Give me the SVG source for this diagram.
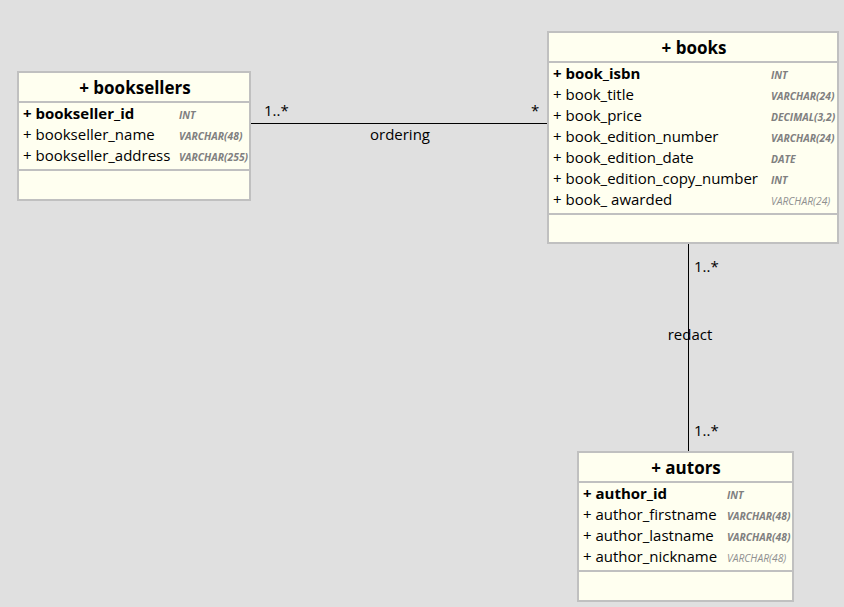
<svg xmlns="http://www.w3.org/2000/svg" width="844" height="607" viewBox="0 0 844 607">
<style>
.box{fill:#fffff0;stroke:#c0c0c0;stroke-width:2}
.sep{stroke:#c0c0c0;stroke-width:2}
.title{font-family:"Open Sans","Noto Sans",sans-serif;font-size:17px;font-weight:bold;fill:#000;text-anchor:middle}
.attr{font-family:"Open Sans","Noto Sans",sans-serif;font-size:15px;fill:#000}
.pk{font-weight:bold}
.type{font-family:"Open Sans","Noto Sans",sans-serif;font-size:10.3px;font-weight:bold;font-style:italic;fill:#808080}
.typel{font-weight:normal;fill:#909090}
.lbl{font-family:"Open Sans","Noto Sans",sans-serif;font-size:15px;fill:#000}
.conn{stroke:#000;stroke-width:1;fill:none}
</style>
<rect x="0" y="0" width="844" height="607" fill="#e0e0e0"/>
<g id="connectors">
<line class="conn" x1="251" y1="123.5" x2="547" y2="123.5"/>
<text class="lbl" x="264" y="116">1..*</text>
<text class="lbl" x="531" y="116">*</text>
<text class="lbl" x="400" y="140" text-anchor="middle">ordering</text>
<line class="conn" x1="688.5" y1="244" x2="688.5" y2="451"/>
<text class="lbl" x="694" y="272">1..*</text>
<text class="lbl" x="690" y="340" text-anchor="middle">redact</text>
<text class="lbl" x="694" y="436">1..*</text>
</g>
<g id="booksellers">
<rect class="box" x="18" y="72" width="232" height="128"/>
<line class="sep" x1="18" y1="102" x2="250" y2="102"/>
<line class="sep" x1="18" y1="170" x2="250" y2="170"/>
<text class="title" x="135" y="94">+ booksellers</text>
<text class="attr pk" x="23" y="119">+ bookseller_id</text>
<text class="attr" x="23" y="140">+ bookseller_name</text>
<text class="attr" x="23" y="161">+ bookseller_address</text>
<text class="type" x="179" y="119">INT</text>
<text class="type" x="179" y="140">VARCHAR(48)</text>
<text class="type" x="179" y="161">VARCHAR(255)</text>
</g>
<g id="books">
<rect class="box" x="548" y="32" width="290" height="211"/>
<line class="sep" x1="548" y1="62" x2="838" y2="62"/>
<line class="sep" x1="548" y1="214" x2="838" y2="214"/>
<text class="title" x="694" y="54">+ books</text>
<text class="attr pk" x="553" y="79">+ book_isbn</text>
<text class="attr" x="553" y="100">+ book_title</text>
<text class="attr" x="553" y="121">+ book_price</text>
<text class="attr" x="553" y="142">+ book_edition_number</text>
<text class="attr" x="553" y="163">+ book_edition_date</text>
<text class="attr" x="553" y="184">+ book_edition_copy_number</text>
<text class="attr" x="553" y="205">+ book_ awarded</text>
<text class="type" x="771" y="79">INT</text>
<text class="type" x="771" y="100">VARCHAR(24)</text>
<text class="type" x="771" y="121">DECIMAL(3,2)</text>
<text class="type" x="771" y="142">VARCHAR(24)</text>
<text class="type" x="771" y="163">DATE</text>
<text class="type" x="771" y="184">INT</text>
<text class="type typel" x="771" y="205">VARCHAR(24)</text>
</g>
<g id="autors">
<rect class="box" x="578" y="452" width="215" height="149"/>
<line class="sep" x1="578" y1="482" x2="793" y2="482"/>
<line class="sep" x1="578" y1="571" x2="793" y2="571"/>
<text class="title" x="686" y="474">+ autors</text>
<text class="attr pk" x="583" y="499">+ author_id</text>
<text class="attr" x="583" y="520">+ author_firstname</text>
<text class="attr" x="583" y="541">+ author_lastname</text>
<text class="attr" x="583" y="562">+ author_nickname</text>
<text class="type" x="727" y="499">INT</text>
<text class="type" x="727" y="520">VARCHAR(48)</text>
<text class="type" x="727" y="541">VARCHAR(48)</text>
<text class="type typel" x="727" y="562">VARCHAR(48)</text>
</g>
</svg>
